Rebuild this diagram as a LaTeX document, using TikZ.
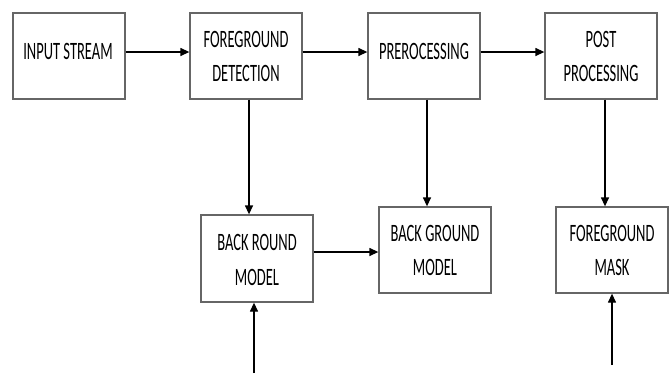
\documentclass[tikz,border=0pt]{standalone}
\usepackage{fontspec}
\setmainfont{Carlito}
\usetikzlibrary{arrows.meta}
\newcommand{\cond}[1]{\scalebox{0.58}[1]{#1}}
\tikzset{
  blk/.style={draw=black!60, line width=1.3pt, fill=white, inner sep=0pt, minimum width=112pt, minimum height=86pt},
  lbl/.style={font=\fontsize{25}{28}\selectfont, inner sep=0pt, anchor=center, text=black},
  arr/.style={draw=black, line width=1.3pt, -{Triangle[length=9pt,width=8pt]}}
}
\begin{document}
\begin{tikzpicture}[x=1pt,y=-1pt]
\useasboundingbox (0,0) rectangle (670,373);
% boxes
\node[blk] (in) at (69,56) {};
\node[blk] (fd) at (246,56) {};
\node[blk] (pre) at (424,56) {};
\node[blk] (post) at (601,56) {};
\node[blk, minimum height=87pt] (brm) at (257,258.5) {};
\node[blk] (bgm) at (435,250) {};
\node[blk] (fgm) at (612,250) {};
% labels
\node[lbl] (in-t) at (68,51) {\cond{INPUT STREAM}};
\node[lbl] (fd-t1) at (246,39.5) {\cond{FOREGROUND}};
\node[lbl] (fd-t2) at (246,73.5) {\cond{DETECTION}};
\node[lbl] (pre-t) at (424,51) {\cond{PREROCESSING}};
\node[lbl] (post-t1) at (601,39.5) {\cond{POST}};
\node[lbl] (post-t2) at (601,73.5) {\cond{PROCESSING}};
\node[lbl] (brm-t1) at (257,242) {\cond{BACK ROUND}};
\node[lbl] (brm-t2) at (257,277) {\cond{MODEL}};
\node[lbl] (bgm-t1) at (435,233) {\cond{BACK GROUND}};
\node[lbl] (bgm-t2) at (435,267) {\cond{MODEL}};
\node[lbl] (fgm-t1) at (612,233) {\cond{FOREGROUND}};
\node[lbl] (fgm-t2) at (612,267) {\cond{MASK}};
% free ends
\coordinate (b1) at (254,373);
\coordinate (b2) at (612,365);
% connectors
\draw[arr] (in.east |- 0,52) -- (fd.west |- 0,52);
\draw[arr] (fd.east |- 0,52) -- (pre.west |- 0,52);
\draw[arr] (pre.east |- 0,52) -- (post.west |- 0,52);
\draw[arr] (fd.south -| 249,0) -- (brm.north -| 249,0);
\draw[arr] (pre.south -| 427,0) -- (bgm.north -| 427,0);
\draw[arr] (post.south -| 605,0) -- (fgm.north -| 605,0);
\draw[arr] (brm.east |- 0,252) -- (bgm.west |- 0,252);
\draw[arr] (b1) -- (brm.south -| b1);
\draw[arr] (b2) -- (fgm.south -| b2);
\end{tikzpicture}
\end{document}
